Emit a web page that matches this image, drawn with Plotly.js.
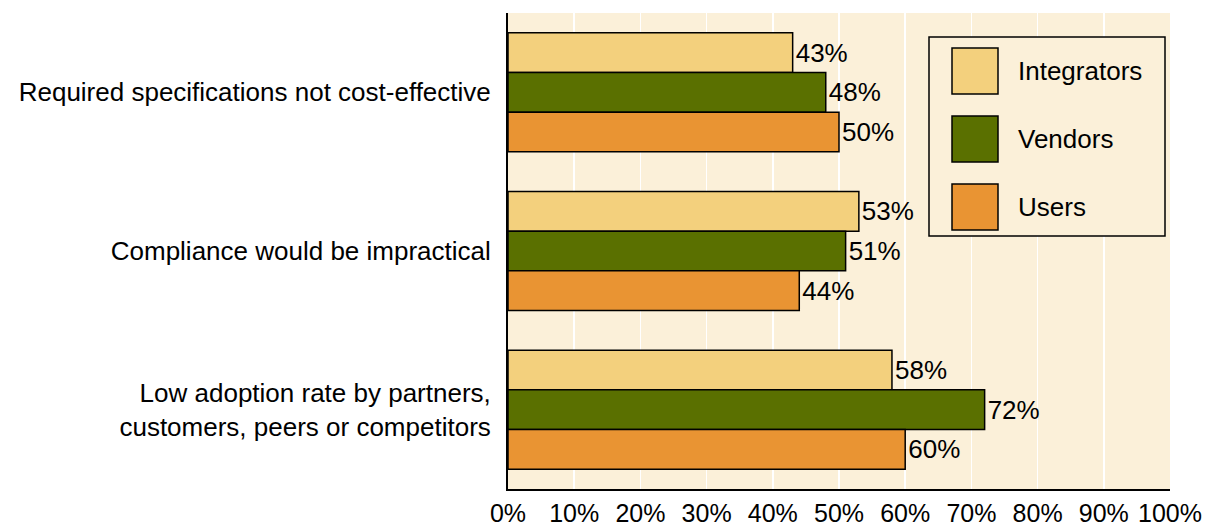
<!DOCTYPE html>
<html>
<head>
<meta charset="utf-8">
<script src="https://cdn.plot.ly/plotly-3.0.1.min.js"></script>
<style>html,body{margin:0;padding:0;background:#fff;}#chart{width:1222px;height:529px;}</style>
</head>
<body>
<div id="chart"></div>
<script>
const categories = [
  "Required specifications not cost-effective",
  "Compliance would be impractical",
  "Low adoption rate by partners,<br>customers, peers or competitors"
];
const seriesNames = ["Integrators", "Vendors", "Users"];
const integrators = [43, 53, 58];
const vendors = [48, 51, 72];
const users = [50, 44, 60];
const tickValues = [0, 10, 20, 30, 40, 50, 60, 70, 80, 90, 100];
const tickLabels = ["0%", "10%", "20%", "30%", "40%", "50%", "60%", "70%", "80%", "90%", "100%"];

const colors = ["#F3D07D", "#5A7000", "#E99433"];
const seriesValues = [integrators, vendors, users];
const font = "Liberation Sans, Arial, Helvetica, sans-serif";
const FS = 26;

const traces = seriesValues.map((vals, i) => ({
  type: "bar",
  orientation: "h",
  name: seriesNames[i],
  y: categories,
  x: vals,
  text: vals.map(v => v + "%"),
  textposition: "outside",
  cliponaxis: false,
  textfont: {family: font, size: FS, color: "#000"},
  marker: {color: colors[i], line: {color: "#000", width: 1.5}},
  hoverinfo: "x+y",
  showlegend: false
}));

// Custom legend (large square swatches) in pixel-derived paper coords
const W = 1222, H = 529;
const L = 508, R = 52, T = 13, B = 40;
const pw = W - L - R, ph = H - T - B;
const px = x => (x - L) / pw;
const py = y => 1 - (y - T) / ph;

const shapes = [{
  type: "rect", xref: "paper", yref: "paper",
  x0: px(929), x1: px(1165), y0: py(236), y1: py(37),
  line: {color: "#000", width: 1.5}, fillcolor: "#FBF0D9", layer: "above"
}];
const annotations = [];
const swTop = [48, 116, 184];
seriesNames.forEach((n, i) => {
  shapes.push({
    type: "rect", xref: "paper", yref: "paper",
    x0: px(952), x1: px(998), y0: py(swTop[i] + 46), y1: py(swTop[i]),
    line: {color: "#000", width: 1.5}, fillcolor: colors[i], layer: "above"
  });
  annotations.push({
    xref: "paper", yref: "paper", x: px(1016), y: py(swTop[i] + 23),
    xanchor: "left", yanchor: "middle", showarrow: false, text: n,
    font: {family: font, size: FS, color: "#000"}
  });
});

const layout = {
  width: W, height: H,
  margin: {l: L, r: R, t: T, b: B, pad: 0},
  paper_bgcolor: "#fff",
  plot_bgcolor: "#FBF0D9",
  barmode: "group",
  bargap: 0.25,
  bargroupgap: 0,
  showlegend: false,
  font: {family: font, size: FS, color: "#000"},
  xaxis: {
    range: [0, 100],
    tickvals: tickValues,
    ticktext: tickLabels,
    showgrid: true, gridcolor: "#FFFFFF", gridwidth: 1.5,
    zeroline: false,
    showline: true, linecolor: "#000", linewidth: 2,
    ticks: "", ticklabelstandoff: 1,
    tickfont: {family: font, size: 25, color: "#000"},
    automargin: false, fixedrange: true
  },
  yaxis: {
    autorange: "reversed",
    showgrid: false, zeroline: false,
    showline: true, linecolor: "#000", linewidth: 2,
    ticks: "", ticklabelstandoff: 10,
    tickfont: {family: font, size: FS, color: "#000"},
    automargin: false, fixedrange: true
  },
  shapes: shapes,
  annotations: annotations
};

Plotly.newPlot("chart", traces, layout, {displayModeBar: false, staticPlot: true});
</script>
</body>
</html>
